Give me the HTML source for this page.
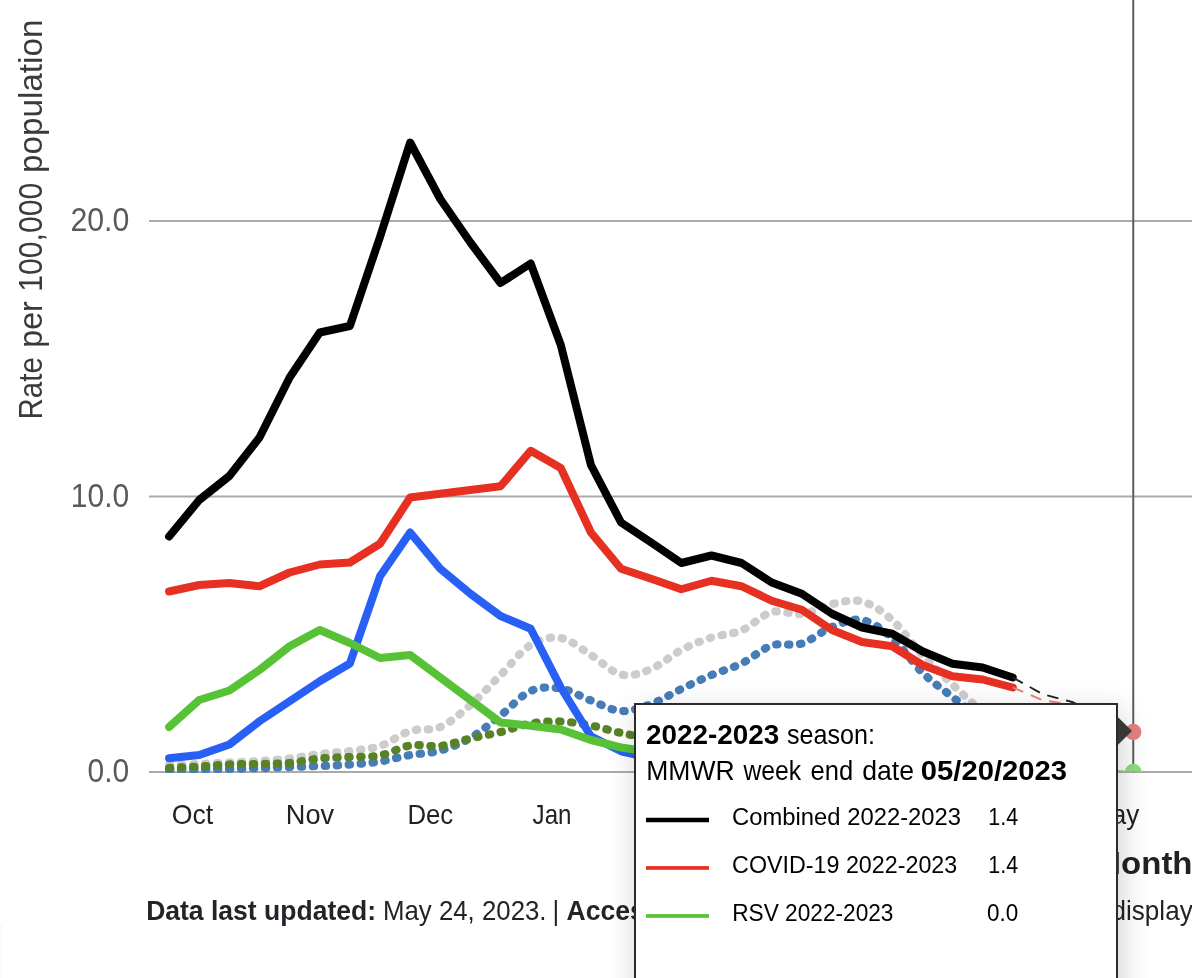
<!DOCTYPE html>
<html lang="en">
<head>
<meta charset="utf-8">
<title>RESP-NET hospitalization rates</title>
<style>
html,body{margin:0;padding:0;background:#fff;}
body{width:1192px;height:978px;overflow:hidden;position:relative;font-family:"Liberation Sans",sans-serif;color:#212529;}
svg{position:absolute;left:0;top:0;display:block;}
svg text{font-family:"Liberation Sans",sans-serif;}
.ytick{fill:#5c5a58;}
.ytitle{fill:#3a3a3a;}
.xtick{fill:#222222;}
.xtitle{font-weight:bold;fill:#222222;}
.foot{fill:#212529;}
.tt{fill:#000;}
#tip{position:absolute;left:634px;top:703px;width:480px;height:330px;border:2px solid #2b2b2b;background:#fff;box-shadow:3px 8px 28px rgba(0,0,0,0.19);}
#edge{position:absolute;left:0;top:924px;width:4px;height:54px;background:linear-gradient(to right,rgba(0,0,0,0.022),rgba(0,0,0,0));}
</style>
</head>
<body>
<svg id="chart" width="1192" height="978" viewBox="0 0 1192 978">
<defs><clipPath id="plot"><rect x="140" y="0" width="1060" height="772.9"/></clipPath></defs>
<line x1="149" x2="1192" y1="221.00" y2="221.00" stroke="#aaaaaa" stroke-width="2"/>
<line x1="149" x2="1192" y1="496.40" y2="496.40" stroke="#aaaaaa" stroke-width="2"/>
<line x1="149" x2="1192" y1="771.90" y2="771.90" stroke="#aaaaaa" stroke-width="2"/>
<text class="ytick" x="70.38" y="231.10" font-size="33.30" textLength="58.90" lengthAdjust="spacingAndGlyphs">20.0</text>
<text class="ytick" x="70.81" y="507.10" font-size="33.30" textLength="58.46" lengthAdjust="spacingAndGlyphs">10.0</text>
<text class="ytick" x="87.58" y="782.30" font-size="33.30" textLength="41.69" lengthAdjust="spacingAndGlyphs">0.0</text>
<text class="ytitle" transform="translate(42.1 417.1) rotate(-90)" y="0" font-size="32.6"><tspan x="-2.42" textLength="62.33" lengthAdjust="spacingAndGlyphs">Rate</tspan> <tspan x="69.44" textLength="46.30" lengthAdjust="spacingAndGlyphs">per</tspan> <tspan x="125.41" textLength="108.87" lengthAdjust="spacingAndGlyphs">100,000</tspan> <tspan x="244.16" textLength="153.30" lengthAdjust="spacingAndGlyphs">population</tspan></text>
<text class="xtick" x="171.74" y="824.10" font-size="28.00" textLength="41.46" lengthAdjust="spacingAndGlyphs">Oct</text>
<text class="xtick" x="285.77" y="824.10" font-size="28.00" textLength="48.32" lengthAdjust="spacingAndGlyphs">Nov</text>
<text class="xtick" x="407.39" y="824.10" font-size="28.00" textLength="45.79" lengthAdjust="spacingAndGlyphs">Dec</text>
<text class="xtick" x="532.62" y="824.10" font-size="28.00" textLength="38.95" lengthAdjust="spacingAndGlyphs">Jan</text>
<text class="xtick" x="651.86" y="824.10" font-size="28.00" textLength="44.87" lengthAdjust="spacingAndGlyphs">Feb</text>
<text class="xtick" x="772.86" y="824.10" font-size="28.00" textLength="44.85" lengthAdjust="spacingAndGlyphs">Mar</text>
<text class="xtick" x="925.95" y="824.10" font-size="28.00" textLength="40.52" lengthAdjust="spacingAndGlyphs">Apr</text>
<text class="xtick" x="1090.11" y="824.10" font-size="28.00" textLength="49.19" lengthAdjust="spacingAndGlyphs">May</text>
<text class="xtitle" x="1093.63" y="873.75" font-size="31.5" textLength="98.91" lengthAdjust="spacingAndGlyphs">Month</text>
<g clip-path="url(#plot)" fill="none" stroke-linejoin="round">
<path d="M169.10 765.00 C174.12 764.83 189.19 764.42 199.23 764.00 C209.27 763.58 219.32 763.00 229.36 762.50 C239.40 762.00 249.45 761.67 259.49 761.00 C269.53 760.33 279.58 759.67 289.62 758.50 C299.66 757.33 309.71 755.25 319.75 754.00 C329.79 752.75 339.84 752.33 349.88 751.00 C359.92 749.67 369.97 749.33 380.01 746.00 C390.05 742.67 400.10 734.17 410.14 731.00 C420.18 727.83 430.23 731.33 440.27 727.00 C450.31 722.67 460.36 713.67 470.40 705.00 C480.44 696.33 490.49 685.00 500.53 675.00 C510.57 665.00 520.62 651.17 530.66 645.00 C540.70 638.83 550.75 636.33 560.79 638.00 C570.83 639.67 580.88 648.92 590.92 655.00 C600.96 661.08 611.01 672.17 621.05 674.50 C631.09 676.83 641.14 673.08 651.18 669.00 C661.22 664.92 671.27 655.25 681.31 650.00 C691.35 644.75 701.40 640.75 711.44 637.50 C721.48 634.25 731.53 634.75 741.57 630.50 C751.61 626.25 761.66 614.75 771.70 612.00 C781.74 609.25 791.79 615.33 801.83 614.00 C811.87 612.67 821.92 606.08 831.96 604.00 C842.00 601.92 852.05 598.83 862.09 601.50 C872.13 604.17 882.18 611.08 892.22 620.00 C902.26 628.92 912.31 644.25 922.35 655.00 C932.39 665.75 942.44 675.00 952.48 684.50 C962.52 694.00 972.57 703.58 982.61 712.00 C992.65 720.42 1007.72 731.17 1012.74 735.00" stroke="#cccccc" stroke-width="8.2" stroke-linecap="round" stroke-dasharray="1.3 10.68"/>
<path d="M169.10 770.00 C174.12 769.92 189.19 769.67 199.23 769.50 C209.27 769.33 219.32 769.25 229.36 769.00 C239.40 768.75 249.45 768.33 259.49 768.00 C269.53 767.67 279.58 767.33 289.62 767.00 C299.66 766.67 309.71 766.42 319.75 766.00 C329.79 765.58 339.84 765.25 349.88 764.50 C359.92 763.75 369.97 763.08 380.01 761.50 C390.05 759.92 400.10 756.83 410.14 755.00 C420.18 753.17 430.23 753.33 440.27 750.50 C450.31 747.67 460.36 743.83 470.40 738.00 C480.44 732.17 490.49 723.33 500.53 715.50 C510.57 707.67 520.62 695.50 530.66 691.00 C540.70 686.50 550.75 686.92 560.79 688.50 C570.83 690.08 580.88 696.75 590.92 700.50 C600.96 704.25 611.01 710.42 621.05 711.00 C631.09 711.58 641.14 707.67 651.18 704.00 C661.22 700.33 671.27 693.83 681.31 689.00 C691.35 684.17 701.40 679.25 711.44 675.00 C721.48 670.75 731.53 668.42 741.57 663.50 C751.61 658.58 761.66 648.83 771.70 645.50 C781.74 642.17 791.79 646.58 801.83 643.50 C811.87 640.42 821.92 630.92 831.96 627.00 C842.00 623.08 852.05 618.17 862.09 620.00 C872.13 621.83 882.18 629.25 892.22 638.00 C902.26 646.75 912.31 662.67 922.35 672.50 C932.39 682.33 942.44 689.08 952.48 697.00 C962.52 704.92 972.57 712.83 982.61 720.00 C992.65 727.17 1007.72 736.67 1012.74 740.00" stroke="#467db8" stroke-width="8.2" stroke-linecap="round" stroke-dasharray="1.3 10.68"/>
<path d="M169.10 768.00 C174.12 767.75 189.19 767.08 199.23 766.50 C209.27 765.92 219.32 764.92 229.36 764.50 C239.40 764.08 249.45 764.25 259.49 764.00 C269.53 763.75 279.58 763.92 289.62 763.00 C299.66 762.08 309.71 759.50 319.75 758.50 C329.79 757.50 339.84 757.50 349.88 757.00 C359.92 756.50 369.97 757.42 380.01 755.50 C390.05 753.58 400.10 747.08 410.14 745.50 C420.18 743.92 430.23 747.17 440.27 746.00 C450.31 744.83 460.36 740.83 470.40 738.50 C480.44 736.17 490.49 734.50 500.53 732.00 C510.57 729.50 520.62 725.25 530.66 723.50 C540.70 721.75 550.75 721.17 560.79 721.50 C570.83 721.83 580.88 723.58 590.92 725.50 C600.96 727.42 611.01 730.92 621.05 733.00 C631.09 735.08 641.14 736.67 651.18 738.00 C661.22 739.33 671.27 740.00 681.31 741.00 C691.35 742.00 701.40 743.17 711.44 744.00 C721.48 744.83 731.53 745.33 741.57 746.00 C751.61 746.67 761.66 747.33 771.70 748.00 C781.74 748.67 791.79 749.33 801.83 750.00 C811.87 750.67 821.92 751.33 831.96 752.00 C842.00 752.67 852.05 753.33 862.09 754.00 C872.13 754.67 882.18 755.33 892.22 756.00 C902.26 756.67 912.31 757.33 922.35 758.00 C932.39 758.67 942.44 759.33 952.48 760.00 C962.52 760.67 972.57 761.33 982.61 762.00 C992.65 762.67 1007.72 763.67 1012.74 764.00" stroke="#588226" stroke-width="8.2" stroke-linecap="round" stroke-dasharray="1.3 10.68"/>
<line x1="1133.25" x2="1133.25" y1="0" y2="772" stroke="#5f5d5c" stroke-width="2"/>
<path d="M169.10 758.25 L199.23 755.00 L229.36 744.50 L259.49 721.25 L289.62 701.25 L319.75 681.25 L349.88 663.50 L380.01 576.25 L410.14 532.50 L440.27 568.75 L470.40 593.75 L500.53 616.00 L530.66 628.75 L560.79 687.50 L590.92 736.25 L621.05 751.25 L651.18 758.00 L681.31 762.00 L711.44 764.00 L741.57 765.00 L771.70 766.00 L801.83 767.00 L831.96 768.00 L862.09 768.50 L892.22 769.00 L922.35 769.50 L952.48 770.00 L982.61 770.00 L1012.74 770.50" stroke="#2860f5" stroke-width="8" stroke-linecap="round"/>
<path d="M169.10 727.00 L199.23 700.00 L229.36 690.50 L259.49 670.00 L289.62 646.25 L319.75 630.00 L349.88 643.00 L380.01 658.00 L410.14 655.00 L440.27 677.50 L470.40 700.00 L500.53 722.50 L530.66 725.75 L560.79 729.50 L590.92 740.00 L621.05 747.50 L651.18 752.00 L681.31 755.00 L711.44 758.00 L741.57 760.00 L771.70 762.00 L801.83 763.00 L831.96 764.00 L862.09 765.00 L892.22 766.00 L922.35 767.00 L952.48 768.00 L982.61 768.50 L1012.74 769.00" stroke="#58c236" stroke-width="8" stroke-linecap="round"/>
<path d="M169.10 591.50 L199.23 585.00 L229.36 583.00 L259.49 586.25 L289.62 572.50 L319.75 564.50 L349.88 562.50 L380.01 543.75 L410.14 497.50 L440.27 493.75 L470.40 490.00 L500.53 486.25 L530.66 450.75 L560.79 468.00 L590.92 532.50 L621.05 568.75 L651.18 578.75 L681.31 589.25 L711.44 580.75 L741.57 586.25 L771.70 600.75 L801.83 609.75 L831.96 630.00 L862.09 642.00 L892.22 646.25 L922.35 665.00 L952.48 676.25 L982.61 679.50 L1012.74 687.50" stroke="#e63022" stroke-width="8" stroke-linecap="round"/>
<path d="M169.10 536.50 L199.23 500.00 L229.36 476.00 L259.49 437.50 L289.62 377.50 L319.75 332.50 L349.88 326.00 L380.01 237.00 L410.14 142.50 L440.27 199.00 L470.40 242.50 L500.53 283.00 L530.66 263.50 L560.79 345.00 L590.92 465.00 L621.05 522.50 L651.18 542.50 L681.31 563.00 L711.44 555.50 L741.57 563.00 L771.70 582.50 L801.83 593.75 L831.96 613.75 L862.09 627.50 L892.22 633.75 L922.35 651.25 L952.48 663.75 L982.61 667.50 L1012.74 677.50" stroke="#000000" stroke-width="8" stroke-linecap="round"/>
<path d="M1012.74 769.00 L1042.87 769.50 L1073.00 770.00 L1103.13 770.50 L1133.26 771.50" stroke="#8fd97c" stroke-width="2" stroke-dasharray="11 9"/>
<path d="M1012.74 687.50 L1042.87 700.30 L1073.00 704.80 L1103.13 716.00 L1133.26 732.40" stroke="#ee7f78" stroke-width="1.9" stroke-dasharray="11.5 8"/>
<path d="M1012.74 677.50 L1042.87 694.25 L1073.00 702.25 L1103.13 716.00 L1133.26 732.40" stroke="#222222" stroke-width="1.9" stroke-dasharray="11.5 8"/>
</g>
<clipPath id="plot2"><rect x="140" y="0" width="1060" height="771.4"/></clipPath>
<g clip-path="url(#plot2)"><circle cx="1133.25" cy="771.9" r="8.2" fill="#8edb80"/>
<circle cx="1133.25" cy="732" r="8.2" fill="#e58180"/></g>
<text class="foot" x="146.13" y="919.90" font-size="27.30" textLength="229.93" lengthAdjust="spacingAndGlyphs" font-weight="bold">Data last updated:</text>
<text class="foot" x="382.98" y="919.90" font-size="27.30" textLength="163.57" lengthAdjust="spacingAndGlyphs">May 24, 2023.</text>
<text class="foot" x="552.59" y="919.90" font-size="27.30" textLength="6.70" lengthAdjust="spacingAndGlyphs">|</text>
<text class="foot" x="566.54" y="919.90" font-size="27.30" textLength="171.02" lengthAdjust="spacingAndGlyphs" font-weight="bold">Accessibility:</text>
<text class="foot" x="743.03" y="919.90" font-size="27.30" textLength="332.25" lengthAdjust="spacingAndGlyphs">Right click on the graph area to</text>
<text class="foot" x="1111.56" y="919.90" font-size="27.30" textLength="688.41" lengthAdjust="spacingAndGlyphs">display options such as show data as table and copy visual.</text>
</svg>
<div id="edge"></div>
<div id="tip"></div>
<svg id="tiptext" width="1192" height="978" viewBox="0 0 1192 978">
<polygon points="1118,717.25 1132,731 1118,744.75" fill="#3a3737"/>
<text class="tt" x="646.03" y="744.20" font-size="27.60" textLength="133.22" lengthAdjust="spacingAndGlyphs" font-weight="bold">2022-2023</text>
<text class="tt" x="787.05" y="744.20" font-size="27.30" textLength="87.99" lengthAdjust="spacingAndGlyphs">season:</text>
<text class="tt" y="779.85" font-size="27.3"><tspan x="646.22" textLength="88.41" lengthAdjust="spacingAndGlyphs">MMWR</tspan> <tspan x="743.44" textLength="57.83" lengthAdjust="spacingAndGlyphs">week</tspan> <tspan x="810.51" textLength="42.63" lengthAdjust="spacingAndGlyphs">end</tspan> <tspan x="862.18" textLength="51.75" lengthAdjust="spacingAndGlyphs">date</tspan></text>
<text class="tt" x="920.84" y="779.85" font-size="27.60" textLength="146.21" lengthAdjust="spacingAndGlyphs" font-weight="bold">05/20/2023</text>
<rect x="646" y="817.75" width="63" height="4.5" fill="#000"/>
<rect x="646" y="866.1" width="63" height="3.7" fill="#e63022"/>
<rect x="646" y="914.1" width="63" height="3.7" fill="#58c236"/>
<text class="tt" x="732.04" y="825.10" font-size="24.60" textLength="229.01" lengthAdjust="spacingAndGlyphs">Combined 2022-2023</text>
<text class="tt" x="732.07" y="873.10" font-size="24.60" textLength="225.21" lengthAdjust="spacingAndGlyphs">COVID-19 2022-2023</text>
<text class="tt" x="732.14" y="921.10" font-size="24.60" textLength="161.36" lengthAdjust="spacingAndGlyphs">RSV 2022-2023</text>
<text class="tt" x="988.37" y="825.10" font-size="24.60" textLength="29.76" lengthAdjust="spacingAndGlyphs">1.4</text>
<text class="tt" x="988.37" y="873.10" font-size="24.60" textLength="29.76" lengthAdjust="spacingAndGlyphs">1.4</text>
<text class="tt" x="987.12" y="921.10" font-size="24.60" textLength="31.26" lengthAdjust="spacingAndGlyphs">0.0</text>
</svg>
</body>
</html>
